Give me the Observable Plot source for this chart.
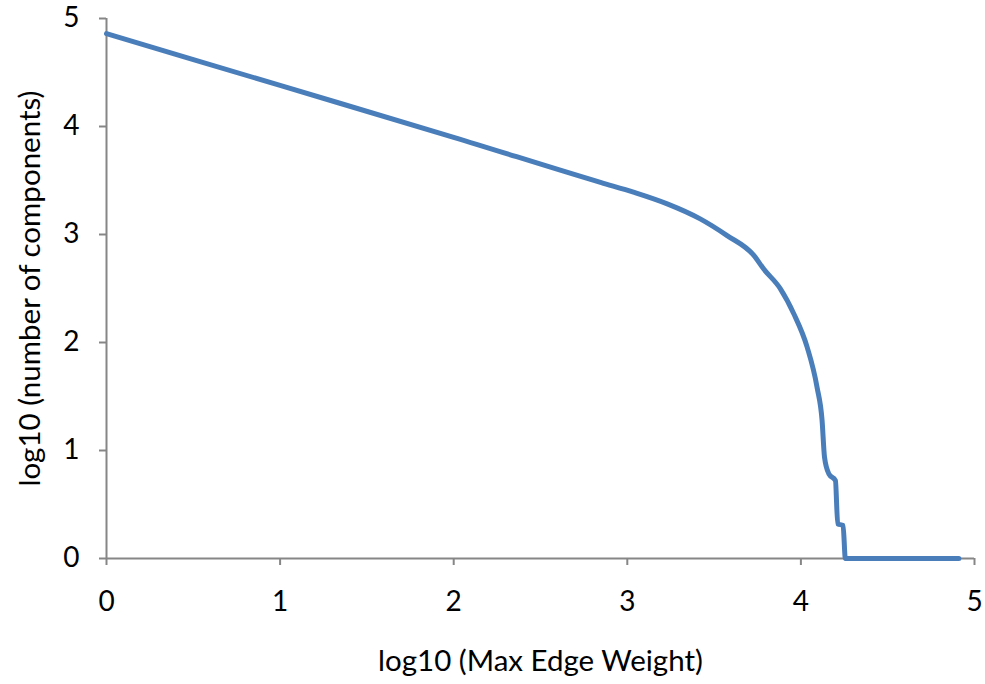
<!DOCTYPE html>
<html><head><meta charset="utf-8">
<script src="https://cdn.jsdelivr.net/npm/d3@7"></script>
<script src="https://cdn.jsdelivr.net/npm/@observablehq/plot@0.6"></script>
<style>body{margin:0;background:#fff}svg{font-family:Lato,"Open Sans",sans-serif}</style>
</head><body><div id="chart"></div>
<script>
const xValues = [0, 1, 2, 2.85, 3.04, 3.23, 3.42, 3.575, 3.729, 3.786, 3.882, 3.959, 4.036, 4.093, 4.122, 4.136, 4.161, 4.199, 4.212, 4.243, 4.256, 4.91];
const yValues = [4.86, 4.38, 3.9, 3.48, 3.39, 3.284, 3.145, 2.99, 2.806, 2.68, 2.497, 2.266, 1.957, 1.586, 1.278, 0.938, 0.784, 0.722, 0.321, 0.306, 0.0, 0.0];
const xTicks = [0, 1, 2, 3, 4, 5];
const yTicks = [0, 1, 2, 3, 4, 5];
const xTitle = "log10 (Max Edge Weight)";
const yTitle = "log10 (number of components)";

const data = xValues.map((x, i) => ({x, y: yValues[i]}));
const axisGray = "#868686";

const chart = Plot.plot({
  width: 985, height: 684,
  marginLeft: 106, marginRight: 11, marginTop: 18, marginBottom: 126,
  x: {domain: [0, 5]},
  y: {domain: [0, 5]},
  style: {fontSize: "28px", fontFamily: "Lato, 'Open Sans', sans-serif", color: "black", background: "white"},
  marks: [
    Plot.axisX({ticks: xTicks, tickSize: 7, tickPadding: 26, stroke: axisGray, strokeWidth: 2, fill: "black", fontSize: 28, label: null, tickFormat: d => String(d)}),
    Plot.axisY({ticks: yTicks, tickSize: 7, tickPadding: 20, stroke: axisGray, strokeWidth: 2, fill: "black", fontSize: 28, label: null, tickFormat: d => String(d)}),
    Plot.ruleX([0], {stroke: axisGray, strokeWidth: 2}),
    Plot.ruleY([0], {stroke: axisGray, strokeWidth: 2}),
    Plot.line(data, {x: "x", y: "y", stroke: "#4a7ebb", strokeWidth: 5, curve: "monotone-x"}),
    Plot.text([xTitle], {frameAnchor: "bottom", dy: 103, textAnchor: "middle", lineAnchor: "middle", fontSize: 29.5, fill: "black"}),
    Plot.text([yTitle], {frameAnchor: "left", dx: -76, rotate: -90, textAnchor: "middle", lineAnchor: "middle", fontSize: 29.5, fill: "black"})
  ]
});
document.getElementById("chart").appendChild(chart);
</script></body></html>
